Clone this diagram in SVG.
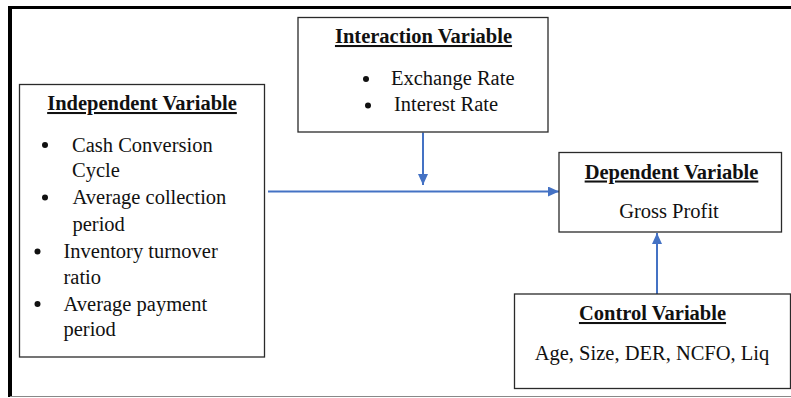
<svg xmlns="http://www.w3.org/2000/svg" width="791" height="398" viewBox="0 0 791 398">
<style>
text{font-family:"Liberation Serif","Times New Roman",serif;font-size:20.5px;fill:#111}
.t{font-weight:bold;text-decoration:underline;text-anchor:middle}
.c{text-anchor:middle}
.box{fill:#fff;stroke:#2a2a2a;stroke-width:1.3}
.arr{stroke:#4472C4;stroke-width:2;fill:none;marker-end:url(#ah)}
.b{fill:#111}
</style>
<defs>
<marker id="ah" markerUnits="userSpaceOnUse" markerWidth="11" markerHeight="10" refX="11" refY="5" orient="auto">
<path d="M0,0 L11,5 L0,10 z" fill="#4472C4"/>
</marker>
</defs>
<rect x="0" y="0" width="791" height="398" fill="#fff"/>
<g id="frame">
<line x1="8" y1="7.5" x2="791" y2="7.5" stroke="#000" stroke-width="3"/>
<line x1="10" y1="6" x2="10" y2="397" stroke="#000" stroke-width="4"/>
<line x1="10" y1="396.5" x2="791" y2="396.5" stroke="#888" stroke-width="1.2"/>
</g>
<g id="connectors">
<line class="arr" x1="268" y1="191.5" x2="559" y2="191.5"/>
<line class="arr" x1="423" y1="132.5" x2="423" y2="185"/>
<line class="arr" x1="657" y1="294" x2="657" y2="233"/>
</g>
<g id="independent">
<rect class="box" x="19.5" y="84.5" width="245" height="272.5"/>
<text class="t" x="142" y="110">Independent Variable</text>
<circle class="b" cx="45" cy="145" r="3"/>
<text x="72" y="151.5">Cash Conversion</text>
<text x="72" y="177">Cycle</text>
<circle class="b" cx="45" cy="197.5" r="3"/>
<text x="72.5" y="204">Average collection</text>
<text x="72.5" y="230.5">period</text>
<circle class="b" cx="37.5" cy="251.5" r="3"/>
<text x="63.5" y="258">Inventory turnover</text>
<text x="63.5" y="283.5">ratio</text>
<circle class="b" cx="37.5" cy="304" r="3"/>
<text x="63.5" y="310.5">Average payment</text>
<text x="63.5" y="336">period</text>
</g>
<g id="interaction">
<rect class="box" x="298" y="17.5" width="250" height="114.5"/>
<text class="t" x="423.5" y="43">Interaction Variable</text>
<circle class="b" cx="366" cy="79" r="3"/>
<text x="391" y="85">Exchange Rate</text>
<circle class="b" cx="368" cy="105.5" r="3"/>
<text x="394" y="111">Interest Rate</text>
</g>
<g id="dependent">
<rect class="box" x="559" y="152.5" width="222.5" height="79.5"/>
<text class="t" x="671.5" y="178.5">Dependent Variable</text>
<text class="c" x="669" y="217.5">Gross Profit</text>
</g>
<g id="control">
<rect class="box" x="514.5" y="294" width="276" height="94.5"/>
<text class="t" x="652.5" y="320">Control Variable</text>
<text class="c" x="652" y="359.5">Age, Size, DER, NCFO, Liq</text>
</g>
</svg>
